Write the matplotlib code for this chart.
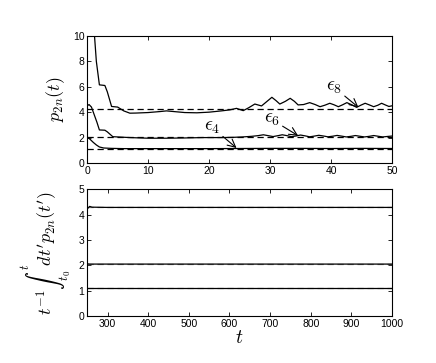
import matplotlib
matplotlib.use("Agg")
import matplotlib.pyplot as plt

plt.rcParams['font.family'] = ['Liberation Sans', 'DejaVu Sans']
plt.rcParams['mathtext.fontset'] = 'cm'

# ---- top panel data: p_{2n}(t) ----
t8 = [0.9, 1.5, 2.0, 2.9, 3.3, 4.0, 5.0, 6.0, 7.0, 8.0, 10, 12, 13, 16, 18, 20, 22,
      23.4, 24.5, 25.6, 26.5, 27.5, 28.6, 29.5, 30.3, 31.0, 31.6, 32.5, 33.3, 34.0,
      34.6, 35.5, 36.5, 37.4, 38.2, 39.0, 39.8, 40.5, 41.2, 41.9, 42.6, 43.4, 44.2,
      44.9, 45.6, 46.3, 47.0, 47.7, 48.3, 49.0, 49.5, 50]
p8 = [12.0, 8.0, 6.15, 6.1, 5.6, 4.45, 4.4, 4.1, 3.92, 3.93, 3.97, 4.05, 4.1, 3.97,
      3.95, 4.0, 4.1,
      4.18, 4.3, 4.12, 4.35, 4.64, 4.49, 4.85, 5.17, 4.9, 4.64, 4.85, 5.09, 4.85,
      4.57, 4.6, 4.75, 4.6, 4.43, 4.55, 4.7, 4.58, 4.43, 4.58, 4.75, 4.58, 4.38,
      4.55, 4.7, 4.57, 4.43, 4.55, 4.7, 4.55, 4.45, 4.5]

t6 = [0, 0.3, 0.7, 1.6, 2.0, 2.9, 3.3, 4.2, 5, 7, 10, 13, 16, 19, 22, 24, 25.5, 27,
      28.0, 28.9, 29.7, 30.5, 31.3, 32, 32.8, 33.5, 34.3, 35, 35.8, 36.5, 37.3, 38,
      38.8, 39.5, 40.3, 41, 41.8, 42.5, 43.3, 44, 44.8, 45.5, 46.3, 47, 47.8, 48.5,
      49.3, 50]
p6 = [4.5, 4.6, 4.4, 3.2, 2.6, 2.58, 2.45, 2.07, 2.05, 2.0, 1.95, 1.95, 1.97, 2.0,
      2.0, 2.02, 2.05, 2.1,
      2.15, 2.22, 2.15, 2.08, 2.15, 2.22, 2.15, 2.07, 2.13, 2.2, 2.13, 2.06, 2.12,
      2.18, 2.12, 2.06, 2.11, 2.17, 2.11, 2.05, 2.1, 2.16, 2.1, 2.05, 2.1, 2.16,
      2.1, 2.05, 2.09, 2.12]

t4 = [0, 0.5, 1.0, 1.5, 2.0, 2.7, 4, 6, 10, 15, 20, 25, 30, 35, 40, 45, 50]
p4 = [2.05, 1.85, 1.62, 1.42, 1.26, 1.18, 1.15, 1.13, 1.13, 1.13, 1.13, 1.14, 1.15,
      1.15, 1.14, 1.15, 1.14]

# long-time averages (dashed)
averages = [4.28, 2.05, 1.12]

# ---- bottom panel data: running time average ----
t_long = [250, 256, 262, 300, 400, 500, 600, 700, 800, 900, 1000]
avg8 = [4.22, 4.32, 4.29, 4.28, 4.28, 4.28, 4.28, 4.28, 4.28, 4.28, 4.28]
avg6 = [2.06, 2.05, 2.05, 2.05, 2.05, 2.05, 2.05, 2.05, 2.05, 2.05, 2.05]
avg4 = [1.12, 1.12, 1.12, 1.12, 1.12, 1.12, 1.12, 1.12, 1.12, 1.12, 1.12]

fig = plt.figure(figsize=(4.36, 3.63), dpi=100)
ax1 = fig.add_axes([0.2, 0.551, 0.699, 0.35])
ax2 = fig.add_axes([0.2, 0.129, 0.699, 0.35])

lw = 0.9
for t, p in [(t8, p8), (t6, p6), (t4, p4)]:
    ax1.plot(t, p, color='black', lw=lw, solid_joinstyle='round')
for a in averages:
    ax1.plot([0, 50], [a, a], color='black', lw=lw, dashes=(5, 3))

ax1.set_xlim(0, 50)
ax1.set_ylim(0, 10)
ax1.set_xticks([0, 10, 20, 30, 40, 50])
ax1.set_yticks([0, 2, 4, 6, 8, 10])
ax1.set_ylabel(r'$p_{2n}(t)$', fontsize=13)

arrow = dict(arrowstyle='->', color='black', lw=0.8, shrinkA=0, shrinkB=0)
ax1.annotate(r'$\epsilon_8$', xy=(44.5, 4.38), xytext=(41.8, 5.3),
             fontsize=14, ha='right', va='bottom', arrowprops=arrow)
ax1.annotate(r'$\epsilon_6$', xy=(34.6, 2.15), xytext=(31.6, 2.75),
             fontsize=14, ha='right', va='bottom', arrowprops=arrow)
ax1.annotate(r'$\epsilon_4$', xy=(24.5, 1.18), xytext=(21.8, 2.15),
             fontsize=14, ha='right', va='bottom', arrowprops=arrow)

for a, avg in zip(averages, [avg8, avg6, avg4]):
    ax2.plot([250, 1000], [a, a], color='gray', lw=lw, dashes=(5, 3))
    ax2.plot(t_long, avg, color='black', lw=lw)

ax2.set_xlim(250, 1000)
ax2.set_ylim(0, 5)
ax2.set_xticks([300, 400, 500, 600, 700, 800, 900, 1000])
ax2.set_yticks([0, 1, 2, 3, 4, 5])
ax2.set_xlabel(r'$t$', fontsize=14, labelpad=1)
ax2.set_ylabel(r"$t^{-1}\int_{t_0}^{t} dt' p_{2n}(t')$", fontsize=13)

for ax in (ax1, ax2):
    ax.tick_params(direction='in', top=True, right=True, length=3, width=0.6,
                   labelsize=7.5, pad=2)
    for s in ax.spines.values():
        s.set_linewidth(0.8)

fig.savefig('out.png', dpi=100)
